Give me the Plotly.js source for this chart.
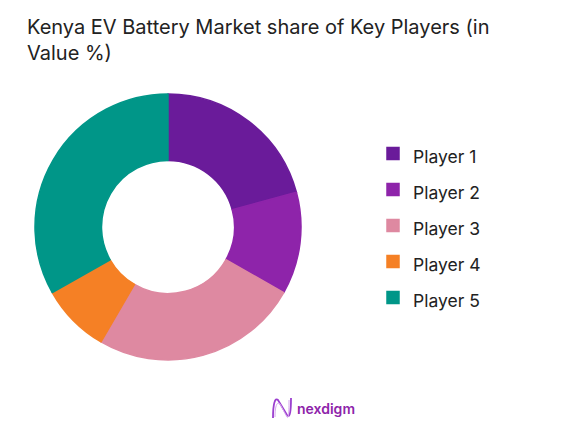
<!DOCTYPE html>
<html><head><meta charset="utf-8">
<script src="https://cdn.plot.ly/plotly-3.0.1.min.js"></script>
<style>html,body{margin:0;padding:0;background:#fff;}#chart{width:577px;height:431px;}</style>
</head><body><div id="chart"></div>
<script>
const labels = ["Player 1", "Player 2", "Player 3", "Player 4", "Player 5"];
const shares = [20.8, 12.4, 25.2, 8.4, 33.2];
const colors = ["#6A1B9A", "#8E24AA", "#DE89A1", "#F58025", "#009688"];
const titleText = "Kenya EV Battery Market share of Key Players (in<br>Value %)";

const W = 577, H = 431;
const cx = 168, cy = 227, R = 133;

const trace = {
  type: "pie",
  labels: labels.map(l => '<span style="font-size:17.5px">' + l + '</span>'),
  values: shares,
  hole: 0.5,
  sort: false,
  direction: "clockwise",
  rotation: 0,
  marker: {colors: colors, line: {width: 1.5, color: colors}},
  textinfo: "none",
  hoverinfo: "label+percent",
  domain: {x: [(cx - R) / W, (cx + R) / W], y: [(H - cy - R) / H, (H - cy + R) / H]}
};

const layout = {
  width: W, height: H,
  margin: {l: 0, r: 0, t: 0, b: 0},
  paper_bgcolor: "#fff",
  font: {family: "Inter, 'Noto Sans', sans-serif", color: "#222"},
  title: {
    text: titleText,
    font: {family: "Inter, 'Noto Sans', sans-serif", size: 20, color: "#222"},
    x: 27 / W, xanchor: "left",
    xref: "paper", yref: "container",
    y: 1 - 34 / H, yanchor: "top"
  },
  showlegend: true,
  legend: {
    x: 373 / W, xanchor: "left",
    y: (H - 226) / H, yanchor: "middle",
    font: {size: 25.4, color: "#222"},
    itemwidth: 30,
    bgcolor: "rgba(0,0,0,0)"
  },
  annotations: [{
    text: "nexdigm", xref: "paper", yref: "paper",
    x: 326 / W, y: (H - 408) / H, xanchor: "center", yanchor: "middle",
    showarrow: false,
    font: {family: "Inter, 'Noto Sans', sans-serif", size: 14, color: "#8E24AA", weight: 600}
  }],
  shapes: [
    {
      type: "path", xref: "paper", yref: "paper",
      path: "M " + (273/W) + "," + ((H-418)/H) + " C " + (273/W) + "," + ((H-404)/H) + " " + (275/W) + "," + ((H-397)/H) + " " + (278/W) + "," + ((H-400)/H) +
            " L " + (287/W) + "," + ((H-415)/H) + " C " + (290/W) + "," + ((H-419)/H) + " " + (291/W) + "," + ((H-410)/H) + " " + (291/W) + "," + ((H-398)/H),
      line: {color: "#9B3FCF", width: 1.8}
    },
    {
      type: "path", xref: "paper", yref: "paper",
      path: "M " + (275/W) + "," + ((H-417)/H) + " C " + (275/W) + "," + ((H-406)/H) + " " + (277/W) + "," + ((H-401)/H) + " " + (280/W) + "," + ((H-404)/H) +
            " L " + (287/W) + "," + ((H-417)/H) + " C " + (289/W) + "," + ((H-420)/H) + " " + (289/W) + "," + ((H-408)/H) + " " + (289/W) + "," + ((H-400)/H),
      line: {color: "#D7A7EE", width: 1}
    }
  ]
};

Plotly.newPlot("chart", [trace], layout, {displayModeBar: false, staticPlot: true});
</script></body></html>
